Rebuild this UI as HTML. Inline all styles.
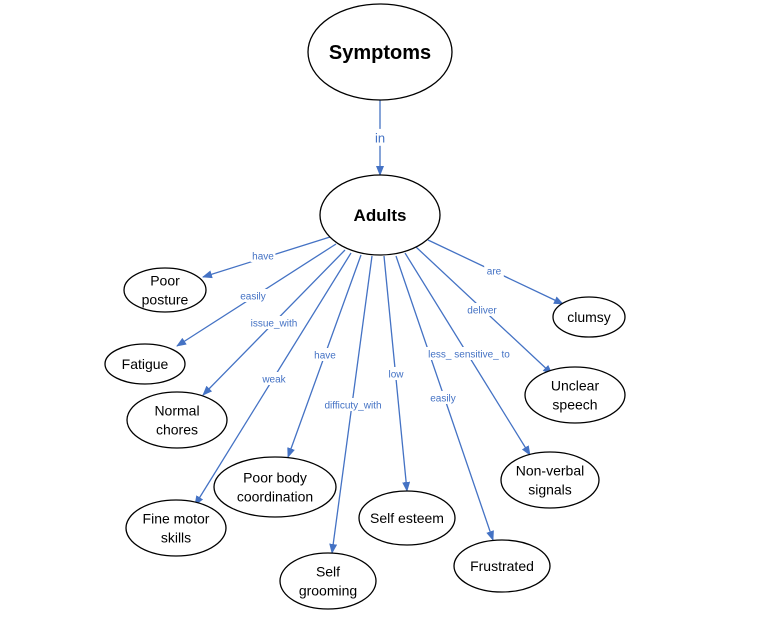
<!DOCTYPE html>
<html><head><meta charset="utf-8">
<style>
html,body{margin:0;padding:0;background:#fff;}
svg{display:block;font-family:"Liberation Sans",Calibri,sans-serif;}
</style></head>
<body>
<svg id="map" width="767" height="617" viewBox="0 0 767 617" xmlns="http://www.w3.org/2000/svg">
<defs>
<marker id="arr" markerWidth="10" markerHeight="8" refX="9" refY="4" orient="auto" markerUnits="userSpaceOnUse">
<path d="M0,0 L10,4 L0,8 Z" fill="#4472C4"/>
</marker>
</defs>
<g id="edges"></g>
<g id="nodes"></g>
<g id="labels"></g>
</svg>
<script>
// nodes: id, label lines, cx, cy, rx, ry, font size, bold
const nodeIds = ["symptoms","adults","posture","fatigue","chores","motor","coord","grooming","esteem","frustrated","nonverbal","speech","clumsy"];
const nodeText = [["Symptoms"],["Adults"],["Poor","posture"],["Fatigue"],["Normal","chores"],["Fine motor","skills"],["Poor body","coordination"],["Self","grooming"],["Self esteem"],["Frustrated"],["Non-verbal","signals"],["Unclear","speech"],["clumsy"]];
const nodeGeom = [[380,52,72,48],[380,215,60,40],[165,290,41,22],[145,364,40,20],[177,420,50,28],[176,528,50,28],[275,487,61,30],[328,581,48,28],[407,518,48,27],[502,566,48,26],[550,480,49,28],[575,395,50,28],[589,317,36,20]];
// edges: from point, to point, label, label position
const edgeLabels = ["in","have","easily","issue_with","weak","have","difficuty_with","low","less_ sensitive_ to","easily","deliver","are"];
const edgePts = [[380,100,380,175],[330,237,203,277],[336,244,177,346],[345,250,203,395],[351,253,195,505],[361,255,288,457],[372,256,332,553],[384,256,407,491],[405,253,530,455],[396,256,493,540],[416,247,552,374],[428,240,563,304]];
const labelPos = [[380,138],[263,256],[253,296],[274,323],[274,379],[325,355],[353,405],[396,374],[469,354],[443,398],[482,310],[494,271]];

const NS="http://www.w3.org/2000/svg";
const eg=document.getElementById('edges'), ng=document.getElementById('nodes'), lg=document.getElementById('labels');
edgePts.forEach((p,i)=>{
  const l=document.createElementNS(NS,'line');
  l.setAttribute('x1',p[0]);l.setAttribute('y1',p[1]);l.setAttribute('x2',p[2]);l.setAttribute('y2',p[3]);
  l.setAttribute('stroke','#4472C4');l.setAttribute('stroke-width','1.3');l.setAttribute('marker-end','url(#arr)');
  
  
  eg.appendChild(l);
  const fs=i===0?13:10;
  const w=edgeLabels[i].length*fs*0.52+4;
  const r=document.createElementNS(NS,'rect');
  r.setAttribute('x',labelPos[i][0]-w/2);r.setAttribute('y',labelPos[i][1]-fs*0.7);
  r.setAttribute('width',w);r.setAttribute('height',fs*1.3);r.setAttribute('fill','#fff');
  lg.appendChild(r);
  const t=document.createElementNS(NS,'text');
  t.setAttribute('x',labelPos[i][0]);t.setAttribute('y',labelPos[i][1]+fs*0.35);
  t.setAttribute('text-anchor','middle');t.setAttribute('font-size',fs);t.setAttribute('fill','#4472C4');
  t.textContent=edgeLabels[i];
  
  
  lg.appendChild(t);
});
nodeIds.forEach((id,i)=>{
  const g=nodeGeom[i];
  const gr=document.createElementNS(NS,'g');
  
  
  const e=document.createElementNS(NS,'ellipse');
  e.setAttribute('cx',g[0]);e.setAttribute('cy',g[1]);e.setAttribute('rx',g[2]);e.setAttribute('ry',g[3]);
  e.setAttribute('fill','#fff');e.setAttribute('stroke','#000');e.setAttribute('stroke-width','1.3');
  gr.appendChild(e);
  const lines=nodeText[i];
  const fs=i===0?20:(i===1?17:14);
  const lh=fs*1.35;
  lines.forEach((s,k)=>{
    const t=document.createElementNS(NS,'text');
    t.setAttribute('x',g[0]);
    t.setAttribute('y',g[1]+(k-(lines.length-1)/2)*lh+fs*0.35);
    t.setAttribute('text-anchor','middle');t.setAttribute('font-size',fs);t.setAttribute('fill','#000');
    if(i<2)t.setAttribute('font-weight','bold');
    t.textContent=s;
    gr.appendChild(t);
  });
  ng.appendChild(gr);
});
</script>
</body></html>
